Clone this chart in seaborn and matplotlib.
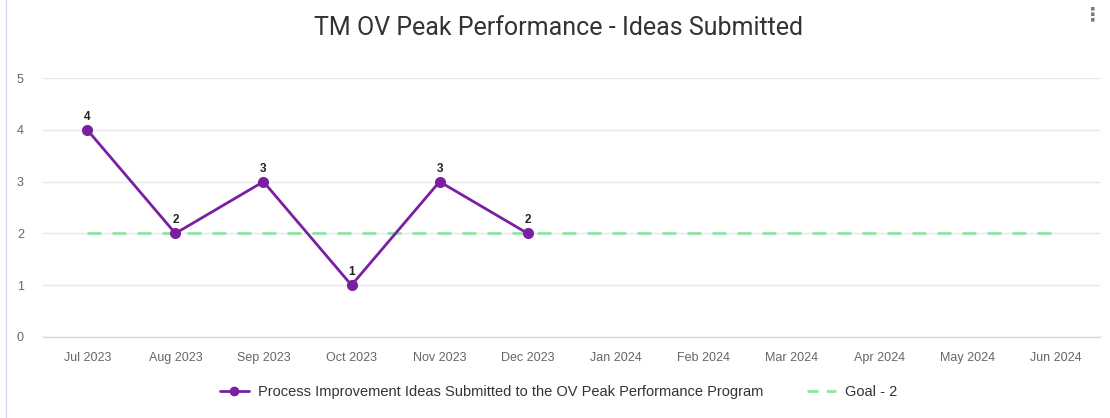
"""
TM OV Peak Performance - Ideas Submitted 折线图
"""

import matplotlib
matplotlib.use('Agg')

import pandas as pd
import matplotlib.pyplot as plt
from matplotlib.lines import Line2D
import seaborn as sns

# 数据
months = ["Jul 2023", "Aug 2023", "Sep 2023", "Oct 2023", "Nov 2023", "Dec 2023",
          "Jan 2024", "Feb 2024", "Mar 2024", "Apr 2024", "May 2024", "Jun 2024"]
ideas = [4, 2, 3, 1, 3, 2]
goal = [2] * 12

series_name = "Process Improvement Ideas Submitted to the OV Peak Performance Program"
goal_name = "Goal - 2"

LINE_COLOR = '#7b1fa2'
GOAL_COLOR = '#8fe3a8'

sns.set_style("white")
plt.rcParams['font.family'] = ['Liberation Sans', 'DejaVu Sans']

df_ideas = pd.DataFrame({"idx": range(len(ideas)), "value": ideas})
df_goal = pd.DataFrame({"idx": range(len(goal)), "value": goal})

fig = plt.figure(figsize=(11.1, 4.18), dpi=100)
ax = fig.add_axes([0.039, 0.194, 0.952, 0.619])

# 目标线
sns.lineplot(data=df_goal, x="idx", y="value", ax=ax, color=GOAL_COLOR,
             linewidth=2, linestyle=(0, (5, 4)), zorder=2)
# 数据线
sns.lineplot(data=df_ideas, x="idx", y="value", ax=ax, color=LINE_COLOR,
             linewidth=2, marker='o', markersize=8, markeredgewidth=0, zorder=3)

for i, v in enumerate(ideas):
    ax.annotate(str(v), (i, v), xytext=(0, 5), textcoords='offset points',
                ha='center', va='bottom', fontsize=8.5, fontweight='bold', color='#222222')

ax.set_xlim(-0.5, len(months) - 0.5)
ax.set_ylim(0, 5)
ax.set_xticks(range(len(months)))
ax.set_xticklabels(months)
ax.set_yticks(range(0, 6))
ax.tick_params(axis='both', length=0, labelsize=9, labelcolor='#666666')
ax.tick_params(axis='x', pad=11)
ax.tick_params(axis='y', pad=14)
ax.set_xlabel('')
ax.set_ylabel('')
ax.grid(axis='y', color='#e6e6e6', linewidth=1)
for side in ['top', 'right', 'left']:
    ax.spines[side].set_visible(False)
ax.spines['bottom'].set_color('#ccd6eb')
ax.spines['bottom'].set_linewidth(1)

# 标题
fig.text(0.503, 0.933, "TM OV Peak Performance - Ideas Submitted", ha='center', va='center',
         fontsize=18, color='#333333', family=['Roboto', 'DejaVu Sans'])

# 图例
handles = [
    Line2D([0], [0], color=LINE_COLOR, linewidth=2, marker='o', markersize=7, markeredgewidth=0),
    Line2D([0], [0], color=GOAL_COLOR, linewidth=2, linestyle=(0, (4, 3))),
]
fig.legend(handles, [series_name, goal_name], loc='center', bbox_to_anchor=(0.503, 0.062),
           ncol=2, frameon=False, fontsize=10.5, handlelength=2, columnspacing=3,
           handletextpad=0.6, labelcolor='#333333')

# 左边框与菜单图标
fig.add_artist(Line2D([0.005, 0.005], [0.0, 1.0], color='#d8d8f0', linewidth=1))
fig.text(0.984, 0.965, "\u22ee", ha='center', va='center', fontsize=14,
         color='#777777', family='DejaVu Sans', fontweight='bold')

plt.savefig("out.png", dpi=100)
plt.close()
